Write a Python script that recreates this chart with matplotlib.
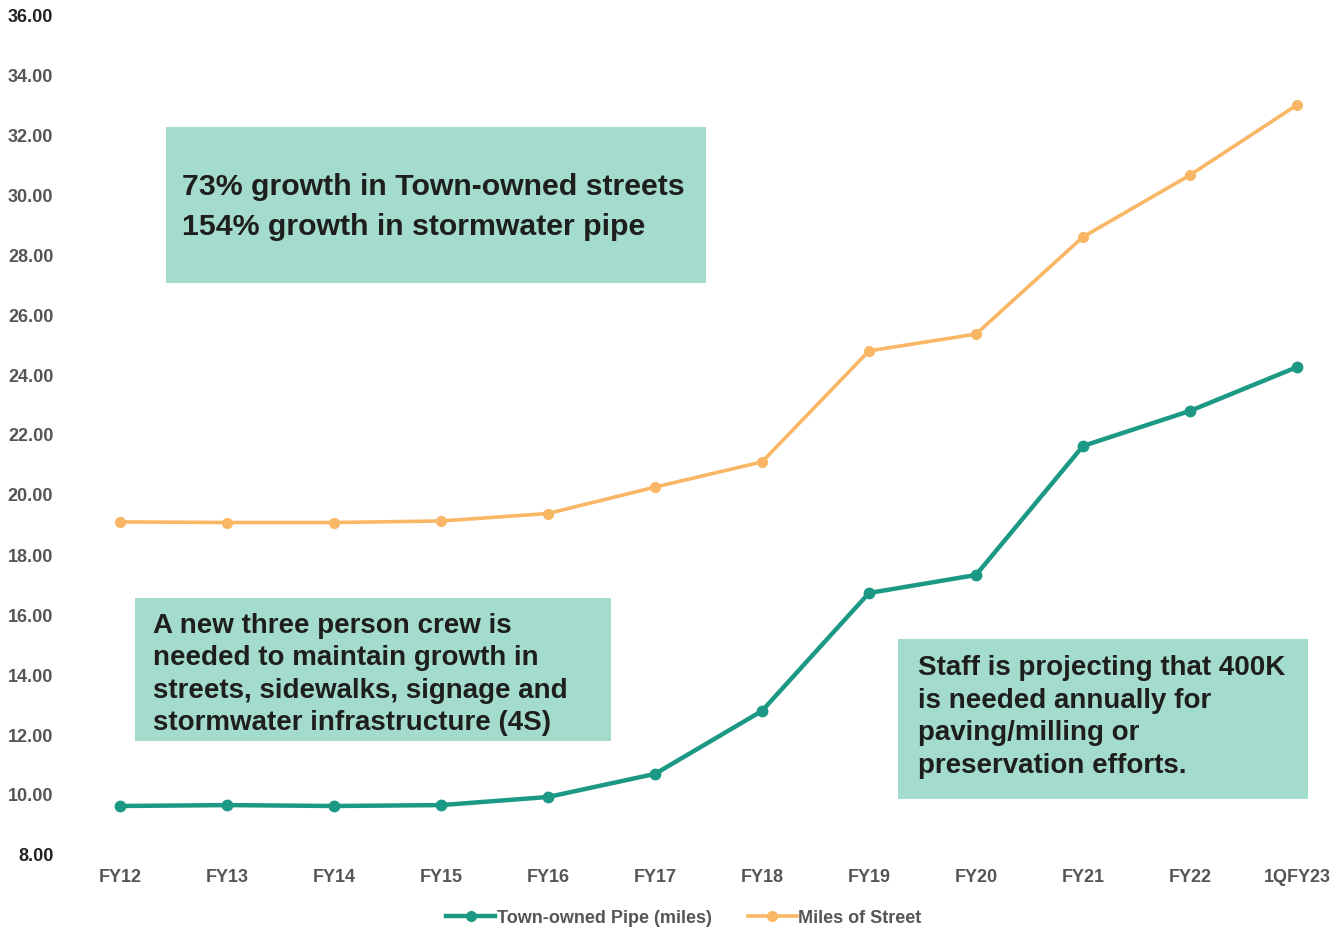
import matplotlib
matplotlib.use("Agg")
import matplotlib.pyplot as plt
from matplotlib.patches import Rectangle
from matplotlib.lines import Line2D

categories = ["FY12", "FY13", "FY14", "FY15", "FY16", "FY17", "FY18", "FY19", "FY20", "FY21", "FY22", "1QFY23"]
pipe_miles = [9.60, 9.63, 9.60, 9.63, 9.90, 10.67, 12.77, 16.70, 17.30, 21.60, 22.77, 24.23]
street_miles = [19.07, 19.05, 19.05, 19.10, 19.35, 20.23, 21.07, 24.77, 25.33, 28.57, 30.63, 32.97]
y_ticks = [8, 10, 12, 14, 16, 18, 20, 22, 24, 26, 28, 30, 32, 34, 36]
y_tick_labels = ["8.00", "10.00", "12.00", "14.00", "16.00", "18.00", "20.00", "22.00",
                 "24.00", "26.00", "28.00", "30.00", "32.00", "34.00", "36.00"]
box_texts = [
    "73% growth in Town-owned streets\n154% growth in stormwater pipe",
    "A new three person crew is\nneeded to maintain growth in\nstreets, sidewalks, signage and\nstormwater infrastructure (4S)",
    "Staff is projecting that 400K\nis needed annually for\npaving/milling or\npreservation efforts.",
]

W, H = 1343, 929
plt.rcParams['font.family'] = ['Liberation Sans', 'DejaVu Sans']
fig = plt.figure(figsize=(W / 100, H / 100), dpi=100)

def fx(px):
    return px / W

def fy(py):
    return 1 - py / H

left_px, right_px, top_px, bot_px = 120, 1297, 15, 855
ax = fig.add_axes([fx(left_px), fy(bot_px), fx(right_px - left_px), (bot_px - top_px) / H])
x = list(range(len(categories)))

teal = "#1b9985"
orange = "#f9b664"
ax.plot(x, street_miles, color=orange, lw=2.6, marker="o", ms=7, clip_on=False, zorder=3)
ax.plot(x, pipe_miles, color=teal, lw=3.2, marker="o", ms=7.5, clip_on=False, zorder=3)

ax.set_xlim(0, 11)
ax.set_ylim(8, 36)
ax.set_yticks(y_ticks)
ax.set_yticklabels(y_tick_labels)
ax.set_xticks(x)
ax.set_xticklabels(categories)
for s in ax.spines.values():
    s.set_visible(False)
ax.tick_params(axis="y", length=0, pad=48, labelsize=13, labelcolor="#555555")
ax.tick_params(axis="x", length=0, pad=10, labelsize=13, labelcolor="#555555")
for lab in ax.get_yticklabels() + ax.get_xticklabels():
    lab.set_fontweight("bold")
ax.get_yticklabels()[0].set_color("#222222")
ax.get_yticklabels()[-1].set_color("#222222")

# text boxes (pixel layout)
box_fc = "#a3dbcc"
boxes = [
    (166, 128, 706, 284, 182, 187, 40, 21.8),
    (135, 599, 611, 742, 153, 626, 32.3, 20),
    (898, 640, 1308, 800, 918, 668, 32.7, 20),
]
for (x0, y0, x1, y1, tx, ty, lsp, fs), txt in zip(boxes, box_texts):
    fig.patches.append(Rectangle((fx(x0), fy(y1)), fx(x1 - x0), (y1 - y0) / H,
                                 transform=fig.transFigure, facecolor=box_fc,
                                 edgecolor="none", zorder=1))
    for i, line in enumerate(txt.split("\n")):
        fig.text(fx(tx), fy(ty + i * lsp), line, fontsize=fs,
                 fontweight="bold", color="#1e1e1e", va="center", ha="left", zorder=5)

handles = [
    Line2D([], [], color=teal, lw=3.2, marker="o", ms=7),
    Line2D([], [], color=orange, lw=2.6, marker="o", ms=7),
]
leg = fig.legend(handles, ["Town-owned Pipe (miles)", "Miles of Street"], loc="center",
                 bbox_to_anchor=(fx(684), fy(919)), ncol=2, frameon=False,
                 prop={"weight": "bold", "size": 13}, handlelength=2.7,
                 handletextpad=0.1, columnspacing=2.0)
for t in leg.get_texts():
    t.set_color("#555555")

fig.savefig("out.png", dpi=100, facecolor="white")
